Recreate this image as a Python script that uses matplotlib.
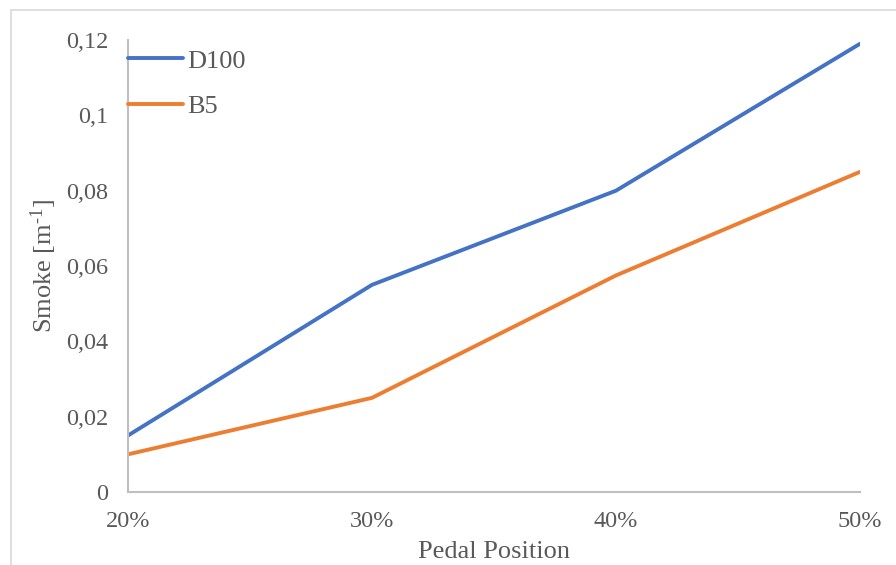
import matplotlib.pyplot as plt
from matplotlib.patches import Rectangle

plt.rcParams['font.family'] = ['Liberation Serif', 'DejaVu Serif']
plt.rcParams['mathtext.fontset'] = 'custom'
plt.rcParams['mathtext.rm'] = 'Liberation Serif'
plt.rcParams['mathtext.it'] = 'Liberation Serif:italic'

# Data
positions = ['20%', '30%', '40%', '50%']
d100 = [0.015, 0.055, 0.080, 0.119]
b5 = [0.010, 0.025, 0.0575, 0.085]
y_ticks = [0, 0.02, 0.04, 0.06, 0.08, 0.10, 0.12]
y_tick_labels = ['0', '0,02', '0,04', '0,06', '0,08', '0,1', '0,12']

text_color = '#595959'
axis_color = '#BFBFBF'

fig = plt.figure(figsize=(8.96, 5.65), dpi=100)
ax = fig.add_axes([128 / 896, 1 - 492 / 565, 732 / 896, 452 / 565])

x = range(len(positions))
ax.plot(x, d100, color='#4472C4', linewidth=2.8, label='D100', solid_capstyle='round')
ax.plot(x, b5, color='#ED7D31', linewidth=2.8, label='B5', solid_capstyle='round')

ax.set_xlim(0, len(positions) - 1)
ax.set_ylim(0, 0.12)
ax.set_xticks(list(x))
ax.set_xticklabels(positions)
ax.set_yticks(y_ticks)
ax.set_yticklabels(y_tick_labels)
ax.tick_params(axis='both', length=0, labelsize=17.5, labelcolor=text_color)
ax.tick_params(axis='y', pad=14)
ax.tick_params(axis='x', pad=14)

for side in ['top', 'right']:
    ax.spines[side].set_visible(False)
for side in ['left', 'bottom']:
    ax.spines[side].set_color(axis_color)
    ax.spines[side].set_linewidth(1.5)

ax.set_xlabel('Pedal Position', fontsize=19, color=text_color, labelpad=6)
ax.set_ylabel('Smoke [m$^{\\mathregular{\u20101}}$]', fontsize=19,
              color=text_color, labelpad=5)

ax.legend(loc='upper left', bbox_to_anchor=(0, 0.98), frameon=False, fontsize=19,
          handlelength=2.1, handletextpad=0.15, labelspacing=0.85, borderpad=0,
          borderaxespad=0, labelcolor=text_color)

# light chart frame
fig.patches.append(Rectangle((11 / 896, -0.1), 1.2, 1 - 10 / 565 + 0.1,
                             transform=fig.transFigure, fill=False,
                             edgecolor='#D9D9D9', linewidth=1.2))

fig.savefig('out.png', dpi=100)
